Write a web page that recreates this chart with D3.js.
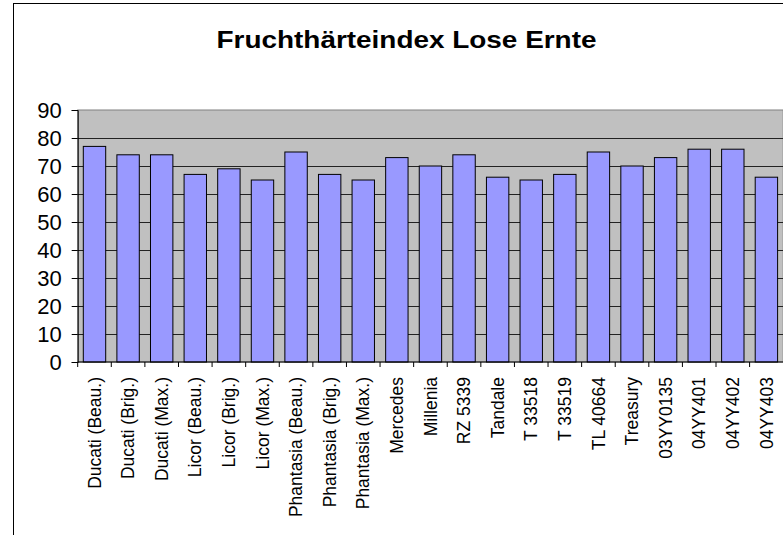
<!DOCTYPE html>
<html>
<head>
<meta charset="utf-8">
<script src="https://cdn.jsdelivr.net/npm/d3@7"></script>
<style>
  html, body { margin: 0; padding: 0; background: #fff; }
  svg { display: block; font-family: Arial, "Liberation Sans", sans-serif; }
</style>
</head>
<body>
<svg id="chart" width="783" height="535"></svg>
<script>
const title = "Fruchthärteindex Lose Ernte";
const categories = ["Ducati (Beau.)", "Ducati (Brig.)", "Ducati (Max.)", "Licor (Beau.)", "Licor (Brig.)", "Licor (Max.)", "Phantasia (Beau.)", "Phantasia (Brig.)", "Phantasia (Max.)", "Mercedes", "Millenia", "RZ 5339", "Tandale", "T 33518", "T 33519", "TL 40664", "Treasury", "03YY0135", "04YY401", "04YY402", "04YY403"];
const values = [77, 74, 74, 67, 69, 65, 75, 67, 65, 73, 70, 74, 66, 65, 67, 75, 70, 73, 76, 76, 66];
const yTicks = [0, 10, 20, 30, 40, 50, 60, 70, 80, 90];

const svg = d3.select("#chart");
const plot = { left: 77.7, right: 783.2, top: 110, bottom: 362 };

// chart area border (cut off at right and bottom)
svg.append("rect").attr("x", 13.5).attr("y", 3.5).attr("width", 800).attr("height", 560)
  .attr("fill", "#fff").attr("stroke", "#000").attr("stroke-width", 1);

const x = d3.scaleBand().domain(categories).range([plot.left, plot.right]).paddingInner(1/3).paddingOuter(1/6);
const y = d3.scaleLinear().domain([0, 90]).range([plot.bottom, plot.top]);

// plot background
svg.append("rect").attr("x", plot.left).attr("y", plot.top)
  .attr("width", plot.right - plot.left).attr("height", plot.bottom - plot.top)
  .attr("fill", "#c0c0c0").attr("stroke", "#808080").attr("stroke-width", 1);

// gridlines
svg.append("g").selectAll("line").data(yTicks.filter(d => d > 0 && d < 90)).join("line")
  .attr("x1", plot.left).attr("x2", plot.right)
  .attr("y1", d => Math.round(y(d)) + 0.5).attr("y2", d => Math.round(y(d)) + 0.5)
  .attr("stroke", "#222").attr("stroke-width", 1);

// bars
svg.append("g").selectAll("rect").data(values).join("rect")
  .attr("x", (d, i) => x(categories[i]))
  .attr("y", d => y(d))
  .attr("width", x.bandwidth())
  .attr("height", d => y(0) - y(d))
  .attr("fill", "#9999ff").attr("stroke", "#000").attr("stroke-width", 1);

// y axis
const yAxis = d3.axisLeft(y).tickValues(yTicks).tickSize(6).tickPadding(10);
const gy = svg.append("g").attr("transform", `translate(${plot.left},0)`).call(yAxis);
gy.select(".domain").attr("stroke", "#000");
gy.selectAll(".tick line").attr("stroke", "#000");
gy.selectAll(".tick text").attr("font-size", 22).attr("fill", "#000")
  .attr("font-family", "Arial, 'Liberation Sans', sans-serif").attr("dy", "0.36em");

// x axis
svg.append("line").attr("x1", plot.left).attr("x2", plot.right)
  .attr("y1", plot.bottom).attr("y2", plot.bottom).attr("stroke", "#000");
const step = x.step();
const boundaries = d3.range(categories.length).map(i => x(categories[i]) - x.paddingInner() * step / 2);
svg.append("g").selectAll("line").data(boundaries).join("line")
  .attr("x1", d => d).attr("x2", d => d)
  .attr("y1", plot.bottom).attr("y2", plot.bottom + 5).attr("stroke", "#000");

svg.append("g").selectAll("text").data(categories).join("text")
  .attr("transform", d => `translate(${x(d) + x.bandwidth() / 2},${plot.bottom + 15}) rotate(-90)`)
  .attr("text-anchor", "end").attr("dy", "0.35em")
  .attr("font-size", 17.5).attr("fill", "#000")
  .text(d => d);

// title
svg.append("text").attr("x", 406.5).attr("y", 48.3).attr("text-anchor", "middle")
  .attr("font-size", 23).attr("font-weight", "bold").attr("fill", "#000")
  .attr("textLength", 380).attr("lengthAdjust", "spacingAndGlyphs")
  .text(title);
</script>
</body>
</html>
